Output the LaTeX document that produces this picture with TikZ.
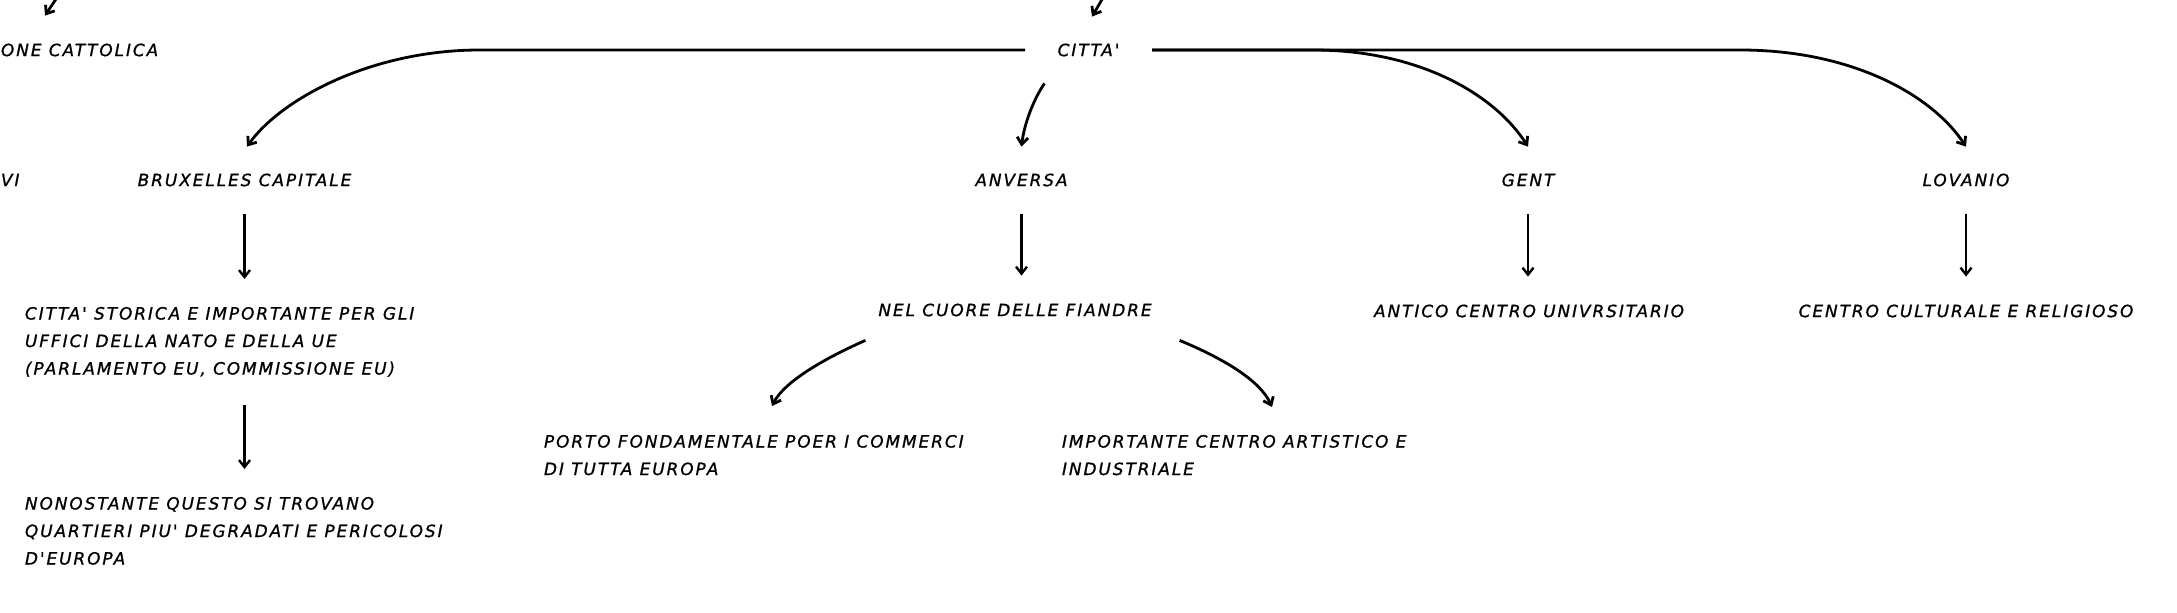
\documentclass[tikz,border=0pt]{standalone}
\usepackage{fontspec}
\newfontfamily\labelfont{DejaVu Sans}[LetterSpace=11.5,Ligatures=TeXOff,FakeBold=1]
\usetikzlibrary{arrows.meta}
\begin{document}
\begin{tikzpicture}[x=0.5pt,y=-0.5pt,
  txt/.style={inner sep=0pt,outer sep=0pt,font=\labelfont\itshape\fontsize{8.45pt}{13.75pt}\selectfont},
  blk/.style={txt,align=left,anchor=north west},
  tipstyle/.style={-{Straight Barb[length=3.5pt,width=5.5pt]}},
  conn/.style={line width=1.4pt,tipstyle},
  vconn/.style={line width=1.2pt,tipstyle,shorten <=14pt,shorten >=14pt}]
\useasboundingbox (0,0) rectangle (2177,613);
\fill[white] (0,0) rectangle (2177,613);

% nodes
\node[txt,anchor=west] (cath) at (1,50) {ONE CATTOLICA};
\node[txt,anchor=west] (vi) at (1,180) {VI};
\node[txt,minimum width=63.5pt] (citta) at (1088.5,50) {CITTA'};
\node[txt] (brux) at (244.5,180) {BRUXELLES CAPITALE};
\node[txt] (anv) at (1021.5,180) {ANVERSA};
\node[txt] (gent) at (1528,180) {GENT};
\node[txt] (lov) at (1966,180) {LOVANIO};
\node[blk] (brux1) at (25,307) {CITTA' STORICA E IMPORTANTE PER GLI\\UFFICI DELLA NATO E DELLA UE\\(PARLAMENTO EU, COMMISSIONE EU)};
\node[blk] (brux2) at (25,497) {NONOSTANTE QUESTO SI TROVANO\\QUARTIERI PIU' DEGRADATI E PERICOLOSI\\D'EUROPA};
\node[txt] (anv1) at (1015,310) {NEL CUORE DELLE FIANDRE};
\node[txt] (gent1) at (1529,311) {ANTICO CENTRO UNIVRSITARIO};
\node[txt] (lov1) at (1966,311) {CENTRO CULTURALE E RELIGIOSO};
\node[blk] (anv2a) at (544,435) {PORTO FONDAMENTALE POER I COMMERCI\\DI TUTTA EUROPA};
\node[blk] (anv2b) at (1062,435) {IMPORTANTE CENTRO ARTISTICO E\\INDUSTRIALE};

% free ends of arrows coming from outside the picture
\coordinate (topc) at (1104,-4);
\coordinate (topl) at (58,-4);

% connectors
\draw[conn] (topc) -- ([xshift=1.75pt,yshift=13.5pt]citta.north);
\draw[conn] (topl) -- ([xshift=22pt,yshift=14pt]cath.north west);

\draw[conn] (citta.west) -- (480,50) .. controls (370,50) and (280,100) .. ([xshift=1.25pt,yshift=13.5pt]brux.north);
\draw[conn] (citta.east) -- (1313,50) .. controls (1420,50) and (1495,95) .. ([yshift=13.5pt]gent.north);
\draw[conn] (citta.east) -- (1740,50) .. controls (1852,50) and (1932,95) .. ([yshift=13.5pt]lov.north);
\draw[conn] ([xshift=-22pt,yshift=-13.5pt]citta.south) .. controls (1033,100) and (1024,125) .. ([yshift=13.5pt]anv.north);

\draw[vconn] (brux.south) -- (brux.south |- brux1.north);
\draw[vconn] (anv.south) -- (anv.south |- anv1.north);
\draw[vconn] (gent.south) -- (gent.south |- gent1.north);
\draw[vconn] (lov.south) -- (lov.south |- lov1.north);
\draw[vconn] (brux1.south -| brux.south) -- (brux.south |- brux2.north);

\draw[conn] ([xshift=-6.5pt,yshift=-12pt]anv1.south west) .. controls (830,356) and (785,380) .. ([xshift=114pt,yshift=14.5pt]anv2a.north west);
\draw[conn] ([xshift=14pt,yshift=-12pt]anv1.south east) .. controls (1222,358) and (1260,380) .. ([xshift=105pt,yshift=14pt]anv2b.north west);
\end{tikzpicture}
\end{document}
